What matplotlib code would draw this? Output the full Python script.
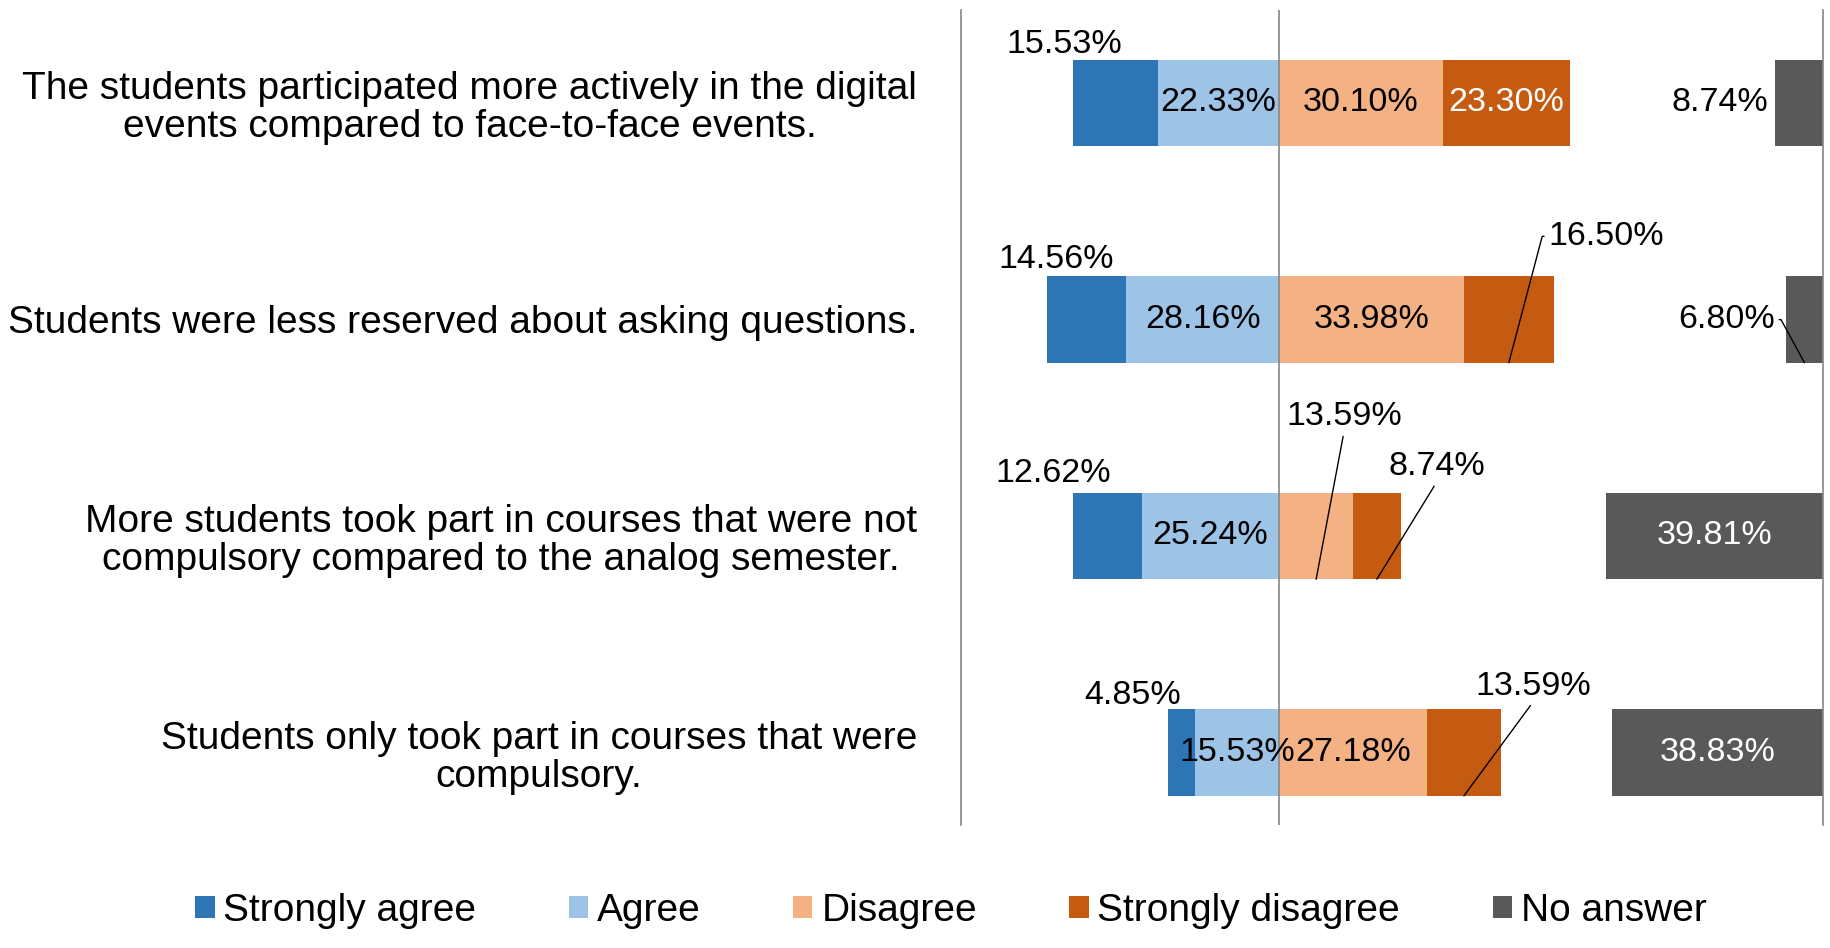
import matplotlib
matplotlib.use("Agg")
import matplotlib.pyplot as plt
from matplotlib.patches import Patch

plt.rcParams["font.family"] = ["Liberation Sans", "DejaVu Sans"]

# Survey answers per statement (percent of respondents)
statements = [
    "The students participated more actively in the digital\nevents compared to face-to-face events.",
    "Students were less reserved about asking questions.",
    "More students took part in courses that were not\ncompulsory compared to the analog semester.",
    "Students only took part in courses that were\ncompulsory.",
]
strongly_agree = [15.53, 14.56, 12.62, 4.85]
agree = [22.33, 28.16, 25.24, 15.53]
disagree = [30.10, 33.98, 13.59, 27.18]
strongly_disagree = [23.30, 16.50, 8.74, 13.59]
no_answer = [8.74, 6.80, 39.81, 38.83]

series_names = ["Strongly agree", "Agree", "Disagree", "Strongly disagree", "No answer"]
colors = ["#2E75B6", "#9DC3E6", "#F4B183", "#C55A11", "#595959"]

BAR_H = 0.40
AXIS_MAX = 100

# label placement for labels sitting outside their segment:
# (series, row) -> (dx pt, dy pt, leader, relpos, arm angle)
outside = {
    (0, 0): (-37, 42, False, None, None),
    (0, 1): (-22, 43, False, None, None),
    (0, 2): (-39, 45, False, None, None),
    (0, 3): (-35, 41, False, None, None),
    (4, 0): (-57, 0, False, None, None),
    (3, 1): (70, 91, True, (0, 0.5), 180),
    (4, 1): (-56, 31, True, (1, 0.5), 0),
    (2, 2): (20, 117, True, (0.5, 0), None),
    (3, 2): (43, 81, True, (0.5, 0), None),
    (3, 3): (50, 79, True, (0.5, 0), None),
}

fig = plt.figure(figsize=(18.31, 9.48), dpi=100)
ax = fig.add_axes([0.5249, 0.1297, 0.9956 - 0.5249, 0.9895 - 0.1297])

rows = list(range(len(statements)))
lefts = [
    [-(a + s) for a, s in zip(agree, strongly_agree)],
    [-a for a in agree],
    [0 for _ in disagree],
    list(disagree),
    [AXIS_MAX - n for n in no_answer],
]
widths = [strongly_agree, agree, disagree, strongly_disagree, no_answer]

for si in range(5):
    ax.barh(rows, widths[si], left=lefts[si], height=BAR_H,
            color=colors[si], label=series_names[si], zorder=2)
    for r in rows:
        w = widths[si][r]
        cx = lefts[si][r] + w / 2
        txt = f"{w:.2f}%"
        if (si, r) in outside:
            dx, dy, leader, relpos, arm = outside[(si, r)]
            if leader:
                cs = "arc3,rad=0"
                if arm is not None:
                    cs = f"arc,angleA={arm},armA=6,rad=0"
                ax.annotate(txt, xy=(cx, r + BAR_H / 2), xytext=(dx, dy),
                            textcoords="offset points", ha="center", va="center",
                            fontsize=24.5, color="black", zorder=4,
                            arrowprops=dict(arrowstyle="-", color="black", lw=1,
                                            relpos=relpos, shrinkA=1, shrinkB=0,
                                            connectionstyle=cs))
            else:
                ax.annotate(txt, xy=(cx, r), xytext=(dx, dy),
                            textcoords="offset points", ha="center", va="center",
                            fontsize=24.5, color="black", zorder=4)
        else:
            col = "white" if si >= 3 else "black"
            ax.text(cx, r, txt, ha="center", va="center", fontsize=24.5,
                    color=col, zorder=4)

ax.set_xlim(-58.5, AXIS_MAX)
ax.set_ylim(3.335, -0.429)
ax.axvline(0, color="#868686", lw=1.2, zorder=3)
ax.set_xticks([])
ax.set_yticks(rows)
ax.set_yticklabels(statements, fontsize=28)
for lbl in ax.get_yticklabels():
    lbl.set_multialignment("center")
    lbl.set_linespacing(1.08)
ax.tick_params(axis="y", length=0, pad=31.7)

for side in ["top", "bottom"]:
    ax.spines[side].set_visible(False)
for side in ["left", "right"]:
    ax.spines[side].set_color("#868686")
    ax.spines[side].set_linewidth(1.2)

handles = [Patch(facecolor=c, edgecolor="none") for c in colors]
fig.legend(handles, series_names, loc="center",
           bbox_to_anchor=(951 / 1831, 1 - 911 / 948), ncol=5, frameon=False,
           fontsize=28, handlelength=0.49, handleheight=0.49,
           handletextpad=0.23, columnspacing=2.38, borderpad=0)

fig.savefig("out.png", dpi=100)
